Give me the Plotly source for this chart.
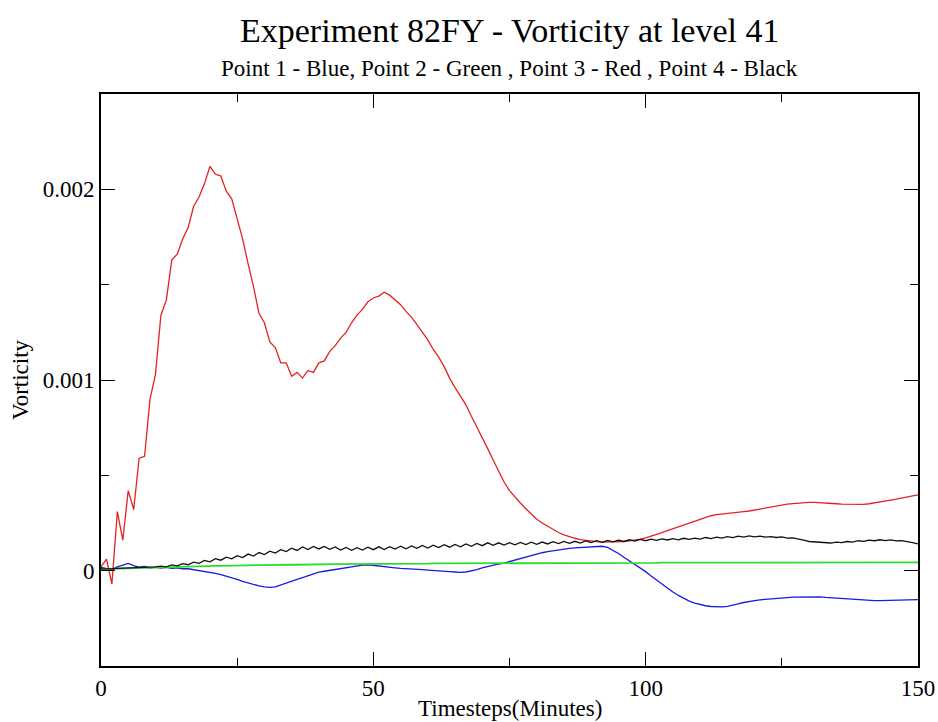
import plotly.graph_objects as go

# Vorticity at level 41, sampled every minute (values in units of 1e-3 s^-1)
SCALE = 1e-3
minutes = list(range(0, 151))

point1_blue = [
    0.017, 0.012, 0.006, 0.020, 0.028, 0.038, 0.026, 0.018, 0.022, 0.014,
    0.018, 0.013, 0.017, 0.012, 0.015, 0.010, 0.010, 0.005, 0.003, -0.003,
    -0.008, -0.014, -0.021, -0.028, -0.036, -0.046, -0.056, -0.065, -0.073, -0.080,
    -0.085, -0.088, -0.085, -0.076, -0.066, -0.056, -0.046, -0.036, -0.026, -0.017,
    -0.008, -0.003, 0.002, 0.006, 0.010, 0.015, 0.020, 0.025, 0.029, 0.031,
    0.027, 0.023, 0.020, 0.017, 0.015, 0.012, 0.011, 0.008, 0.006, 0.005,
    0.003, 0.002, 0.000, -0.002, -0.005, -0.007, -0.009, -0.007, -0.002, 0.006,
    0.015, 0.023, 0.030, 0.035, 0.040, 0.048, 0.055, 0.064, 0.072, 0.080,
    0.088, 0.094, 0.100, 0.105, 0.110, 0.114, 0.117, 0.120, 0.122, 0.124,
    0.126, 0.127, 0.128, 0.122, 0.108, 0.090, 0.070, 0.052, 0.035, 0.015,
    -0.005, -0.028, -0.050, -0.072, -0.092, -0.112, -0.130, -0.146, -0.160, -0.170,
    -0.178, -0.184, -0.188, -0.190, -0.190, -0.187, -0.182, -0.174, -0.167, -0.161,
    -0.157, -0.153, -0.150, -0.147, -0.145, -0.143, -0.141, -0.139, -0.138, -0.137,
    -0.137, -0.136, -0.137, -0.140, -0.142, -0.145, -0.148, -0.150, -0.152, -0.153,
    -0.155, -0.156, -0.157, -0.157, -0.156, -0.154, -0.153, -0.152, -0.151, -0.151,
    -0.152,
]

point2_green = [
    0.008, 0.009, 0.010, 0.011, 0.012, 0.013, 0.014, 0.015, 0.016, 0.016,
    0.017, 0.018, 0.019, 0.019, 0.020, 0.021, 0.022, 0.022, 0.023, 0.024,
    0.024, 0.025, 0.025, 0.026, 0.026, 0.027, 0.027, 0.028, 0.028, 0.029,
    0.029, 0.030, 0.030, 0.030, 0.031, 0.031, 0.031, 0.032, 0.032, 0.032,
    0.033, 0.033, 0.033, 0.034, 0.034, 0.034, 0.035, 0.035, 0.035, 0.035,
    0.036, 0.036, 0.036, 0.036, 0.036, 0.037, 0.037, 0.037, 0.037, 0.037,
    0.037, 0.038, 0.038, 0.038, 0.038, 0.038, 0.038, 0.038, 0.038, 0.038,
    0.038, 0.038, 0.038, 0.039, 0.039, 0.039, 0.039, 0.039, 0.039, 0.039,
    0.040, 0.040, 0.040, 0.040, 0.040, 0.040, 0.040, 0.040, 0.040, 0.040,
    0.040, 0.040, 0.040, 0.041, 0.041, 0.041, 0.041, 0.041, 0.041, 0.041,
    0.041, 0.041, 0.041, 0.042, 0.042, 0.042, 0.042, 0.042, 0.042, 0.042,
    0.042, 0.043, 0.043, 0.043, 0.043, 0.043, 0.044, 0.044, 0.044, 0.044,
    0.044, 0.044, 0.045, 0.045, 0.045, 0.045, 0.045, 0.045, 0.045, 0.045,
    0.045, 0.045, 0.045, 0.045, 0.044, 0.044, 0.044, 0.044, 0.044, 0.044,
    0.043, 0.043, 0.043, 0.043, 0.043, 0.043, 0.043, 0.043, 0.043, 0.043,
    0.043,
]

point3_red = [
    0.020, 0.060, -0.070, 0.310, 0.160, 0.420, 0.320, 0.590, 0.600, 0.900,
    1.030, 1.340, 1.420, 1.630, 1.660, 1.740, 1.800, 1.910, 1.960, 2.030,
    2.120, 2.080, 2.070, 1.990, 1.950, 1.840, 1.740, 1.610, 1.490, 1.350,
    1.300, 1.200, 1.170, 1.090, 1.090, 1.020, 1.040, 1.010, 1.050, 1.040,
    1.090, 1.100, 1.150, 1.180, 1.220, 1.250, 1.300, 1.340, 1.370, 1.410,
    1.430, 1.440, 1.460, 1.445, 1.420, 1.395, 1.360, 1.330, 1.290, 1.250,
    1.210, 1.160, 1.120, 1.070, 1.010, 0.960, 0.915, 0.870, 0.810, 0.755,
    0.700, 0.640, 0.580, 0.520, 0.465, 0.420, 0.385, 0.355, 0.325, 0.295,
    0.270, 0.250, 0.232, 0.215, 0.200, 0.188, 0.178, 0.170, 0.163, 0.158,
    0.155, 0.152, 0.150, 0.150, 0.150, 0.151, 0.153, 0.156, 0.160, 0.165,
    0.172, 0.180, 0.190, 0.200, 0.210, 0.220, 0.230, 0.240, 0.250, 0.260,
    0.270, 0.280, 0.288, 0.294, 0.298, 0.302, 0.305, 0.308, 0.310, 0.313,
    0.318, 0.324, 0.330, 0.336, 0.341, 0.345, 0.349, 0.352, 0.355, 0.357,
    0.358, 0.358, 0.357, 0.355, 0.353, 0.351, 0.349, 0.348, 0.347, 0.347,
    0.348, 0.351, 0.355, 0.360, 0.365, 0.370, 0.375, 0.380, 0.386, 0.392,
    0.398,
]

point4_black = [
    0.009, 0.008, 0.010, 0.012, 0.013, 0.015, 0.016, 0.017, 0.018, 0.019,
    0.020, 0.024, 0.020, 0.030, 0.025, 0.037, 0.031, 0.045, 0.038, 0.054,
    0.046, 0.063, 0.055, 0.071, 0.062, 0.079, 0.069, 0.087, 0.077, 0.095,
    0.084, 0.102, 0.092, 0.110, 0.100, 0.118, 0.106, 0.124, 0.111, 0.127,
    0.114, 0.127, 0.112, 0.124, 0.108, 0.122, 0.107, 0.121, 0.108, 0.123,
    0.110, 0.125, 0.111, 0.126, 0.113, 0.128, 0.115, 0.130, 0.117, 0.132,
    0.119, 0.134, 0.121, 0.136, 0.123, 0.138, 0.125, 0.140, 0.128, 0.143,
    0.131, 0.146, 0.133, 0.146, 0.134, 0.147, 0.136, 0.148, 0.137, 0.149,
    0.138, 0.150, 0.140, 0.152, 0.142, 0.153, 0.143, 0.154, 0.145, 0.156,
    0.147, 0.157, 0.149, 0.159, 0.151, 0.160, 0.153, 0.162, 0.155, 0.164,
    0.157, 0.165, 0.159, 0.167, 0.161, 0.168, 0.162, 0.170, 0.164, 0.171,
    0.166, 0.174, 0.168, 0.176, 0.171, 0.178, 0.173, 0.181, 0.176, 0.182,
    0.177, 0.181, 0.176, 0.179, 0.174, 0.177, 0.171, 0.172, 0.164, 0.160,
    0.153, 0.152, 0.147, 0.149, 0.145, 0.150, 0.147, 0.153, 0.150, 0.157,
    0.154, 0.160, 0.157, 0.162, 0.158, 0.161, 0.156, 0.157, 0.150, 0.147,
    0.140,
]

x_tick_vals = [0, 50, 100, 150]
y_tick_vals = [0, 0.001, 0.002]
y_tick_text = ["0", "0.001", "0.002"]

series = [
    ("Point 1", point1_blue, "#1a1ae0", 1.3),
    ("Point 2", point2_green, "#2edc2e", 1.8),
    ("Point 3", point3_red, "#e42222", 1.3),
    ("Point 4", point4_black, "#111111", 1.3),
]

SERIF = "Liberation Serif, Times New Roman, serif"
LABEL_SIZE = 23

fig = go.Figure()
for name, vals, color, width in series:
    fig.add_trace(go.Scatter(
        x=minutes,
        y=[v * SCALE for v in vals],
        mode="lines",
        name=name,
        line=dict(color=color, width=width),
        showlegend=False,
    ))

axis_common = dict(
    showgrid=False,
    zeroline=False,
    showline=True,
    linecolor="black",
    linewidth=2,
    mirror="allticks",
    ticks="inside",
    tickcolor="black",
    tickwidth=1,
    ticklen=14,
    automargin=False,
    tickfont=dict(family=SERIF, size=LABEL_SIZE, color="black"),
)

fig.update_xaxes(
    range=[0, 150],
    tickvals=x_tick_vals,
    minor=dict(dtick=25, tick0=0, ticks="inside", ticklen=8, tickcolor="black", tickwidth=1),
    **axis_common,
)
fig.update_yaxes(
    range=[-0.0005, 0.0025],
    tickvals=y_tick_vals,
    ticktext=y_tick_text,
    minor=dict(dtick=0.0005, tick0=0, ticks="inside", ticklen=8, tickcolor="black", tickwidth=1),
    **axis_common,
)

fig.update_layout(
    width=938,
    height=722,
    margin=dict(l=101, r=20, t=94, b=56),
    paper_bgcolor="white",
    plot_bgcolor="white",
    annotations=[
        dict(text="Experiment 82FY - Vorticity at level 41", x=0.5, y=1,
             xref="paper", yref="paper", xanchor="center", yanchor="middle",
             yshift=64, showarrow=False,
             font=dict(family=SERIF, size=34, color="black")),
        dict(text="Point 1 - Blue, Point 2 - Green , Point 3 - Red , Point 4 - Black",
             x=0.5, y=1, xref="paper", yref="paper", xanchor="center", yanchor="middle",
             yshift=26, showarrow=False,
             font=dict(family=SERIF, size=LABEL_SIZE, color="black")),
        dict(text="Timesteps(Minutes)", x=0.5, y=0, xref="paper", yref="paper",
             xanchor="center", yanchor="middle", yshift=-42, showarrow=False,
             font=dict(family=SERIF, size=LABEL_SIZE, color="black")),
        dict(text="Vorticity", x=0, y=0.5, xref="paper", yref="paper",
             xanchor="center", yanchor="middle", xshift=-81, textangle=-90,
             showarrow=False,
             font=dict(family=SERIF, size=LABEL_SIZE, color="black")),
    ],
)

fig.write_html("out.html")
